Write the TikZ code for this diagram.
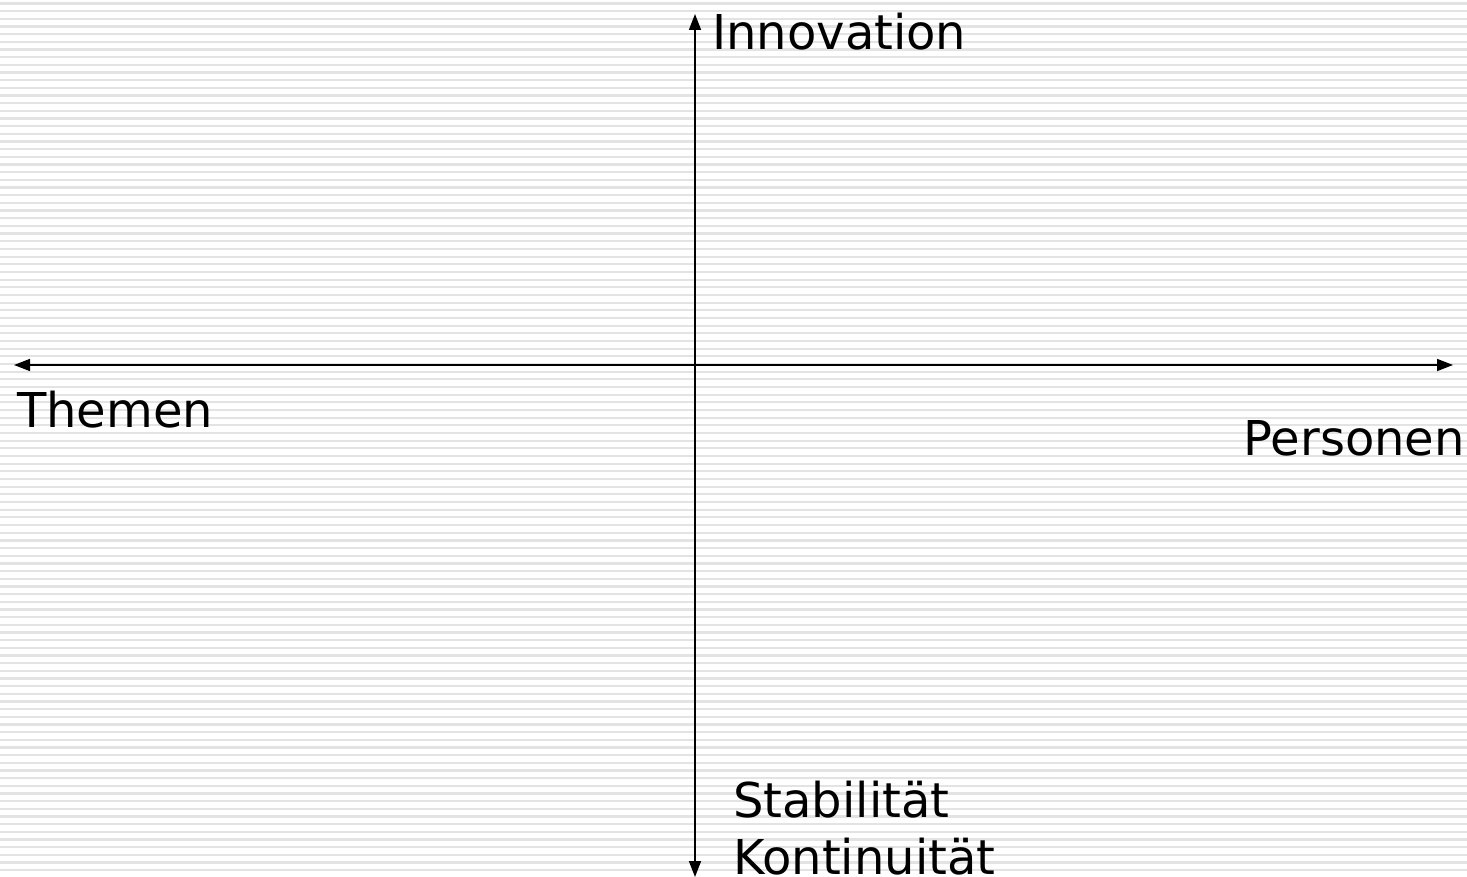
\documentclass[tikz,border=0pt]{standalone}
\usepackage{fontspec}
\setmainfont{DejaVu Sans}
\usetikzlibrary{arrows.meta}
\begin{document}
\begin{tikzpicture}[x=1pt,y=-1pt,
  axis/.style={line width=1.6pt,{Triangle[length=16pt,width=12pt]}-{Triangle[length=16pt,width=12pt]}},
  lbl/.style={font=\fontsize{48}{57}\selectfont,inner sep=0pt},
  stripe/.style={draw=black!11,line width=2.2pt}]
\useasboundingbox (0,0) rectangle (1467,877);
\fill[white] (0,0) rectangle (1467,877);
\foreach \i in {0,...,114} {
  \draw[stripe] (0,3.5+7.67*\i) -- (1467,3.5+7.67*\i);
}
\coordinate (top) at (695,14);
\coordinate (bot) at (695,877);
\coordinate (left) at (14,365);
\coordinate (right) at (1453,365);
\draw[axis] (left) -- (right);
\draw[axis] (bot) -- (top);
\node[lbl,anchor=base west] (inno) at (712,50) {Innovation};
\node[lbl,anchor=base west] (them) at (17,427) {Themen};
\node[lbl,anchor=base east] (pers) at (1465,455) {Personen};
\node[lbl,anchor=base west] (stab) at (733,817) {Stabilität};
\node[lbl,anchor=base west] (kont) at (733,874) {Kontinuität};
\end{tikzpicture}
\end{document}
